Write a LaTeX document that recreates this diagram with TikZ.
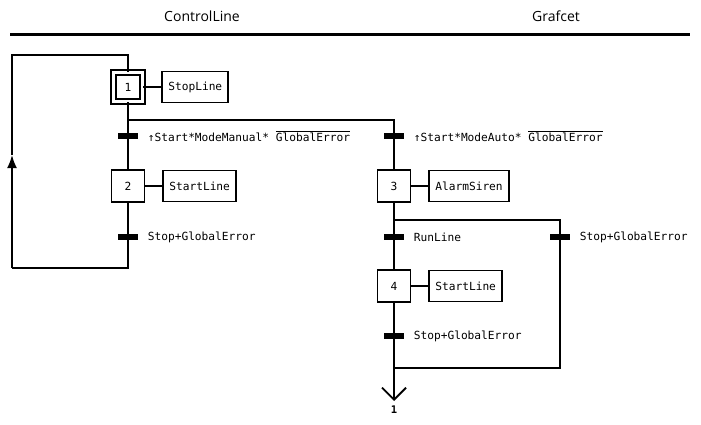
\documentclass[tikz,border=0pt]{standalone}
\usepackage{fontspec}
\setmainfont{Open Sans}
\setmonofont{DejaVu Sans Mono}
\usetikzlibrary{positioning}
\usetikzlibrary{arrows.meta}
\newcommand\notbar[1]{$\overline{\mbox{\ttfamily #1}}$}

\begin{document}
\begin{tikzpicture}[x=1pt, y=-1pt, line width=1.8pt,
font=\ttfamily\fontsize{11.2}{13}\selectfont,
stepbox/.style={
  draw,
  minimum width=33pt,
  minimum height=32pt,
  inner sep=0pt},
initbox/.style={
  draw,
  double,
  double distance=2.8pt,
  minimum size=29pt,
  inner sep=0pt},
actionbox/.style={
  draw,
  minimum height=31pt,
  inner xsep=6pt},
transbar/.style={
  fill=black,
  minimum width=20pt,
  minimum height=6pt,
  inner sep=0pt},
translabel/.style={
  inner sep=1pt,
  anchor=west},
header/.style={
  font=\rmfamily\fontsize{14}{16}\selectfont}
]
\useasboundingbox (0,0) rectangle (701,425);
% header
\node[header] (hctrl) at (202,16) {ControlLine};
\node[header] (hgraf) at (556,16) {Grafcet};
\coordinate (hl) at (10,35);
\coordinate (hr) at (690,35);
\draw[line width=3pt] (hl) -- (hr);
% left branch
\node[initbox] (s1) at (128,87) {1};
\node[actionbox, right=18pt of s1] (a1) {StopLine};
\node[transbar] (t1) at (128,136) {};
\node[translabel, right=7pt of t1] (l1) {↑Start*ModeManual* \notbar{GlobalError}};
\node[stepbox] (s2) at (128,186) {2};
\node[actionbox, right=17pt of s2] (a2) {StartLine};
\node[transbar] (t2) at (128,237) {};
\node[translabel, right=7pt of t2] (l2) {Stop+GlobalError};
% right branch
\node[transbar] (t3) at (394,136) {};
\node[translabel, right=7pt of t3] (l3) {↑Start*ModeAuto* \notbar{GlobalError}};
\node[stepbox] (s3) at (394,186) {3};
\node[actionbox, right=17pt of s3] (a3) {AlarmSiren};
\node[transbar] (t4) at (394,237) {};
\node[translabel, right=7pt of t4] (l4) {RunLine};
\node[transbar] (t5) at (560,237) {};
\node[translabel, right=7pt of t5] (l5) {Stop+GlobalError};
\node[stepbox] (s4) at (394,286) {4};
\node[actionbox, right=17pt of s4] (a4) {StartLine};
\node[transbar] (t6) at (394,336) {};
\node[translabel, right=7pt of t6] (l6) {Stop+GlobalError};
\node[inner sep=1pt, font=\ttfamily\bfseries\fontsize{10.5}{11}\selectfont] (ret) at (394,410) {1};
% corners
\coordinate (loopbr) at (128,268);
\coordinate (loopbl) at (12,268);
\coordinate (looparr) at (12,155);
\coordinate (loopin) at (128,55);
\coordinate (div1) at (128,120);
\coordinate (div2) at (394,220);
\coordinate (div2r) at (560,220);
\coordinate (conv) at (394,368);
\coordinate (convr) at (560,368);
\coordinate (goto) at (394,401);
% links
\draw (s1) -- (a1);
\draw (s2) -- (a2);
\draw (s3) -- (a3);
\draw (s4) -- (a4);
\draw (s1.south) -- (s2.north);
\draw (div1) -| (s3.north);
\draw (s2.south) -- (loopbr) -- (loopbl);
\draw[-{Latex[length=13pt,width=10pt]}] (loopbl) -- (looparr);
\draw (looparr) |- (loopin) -- (s1.north);
\draw (s3.south) -- (s4.north);
\draw (div2) -- (div2r) -- (convr) -- (conv);
\draw[-{Straight Barb[length=12pt,width=24pt]}] (s4.south) -- (goto);
\end{tikzpicture}
\end{document}
